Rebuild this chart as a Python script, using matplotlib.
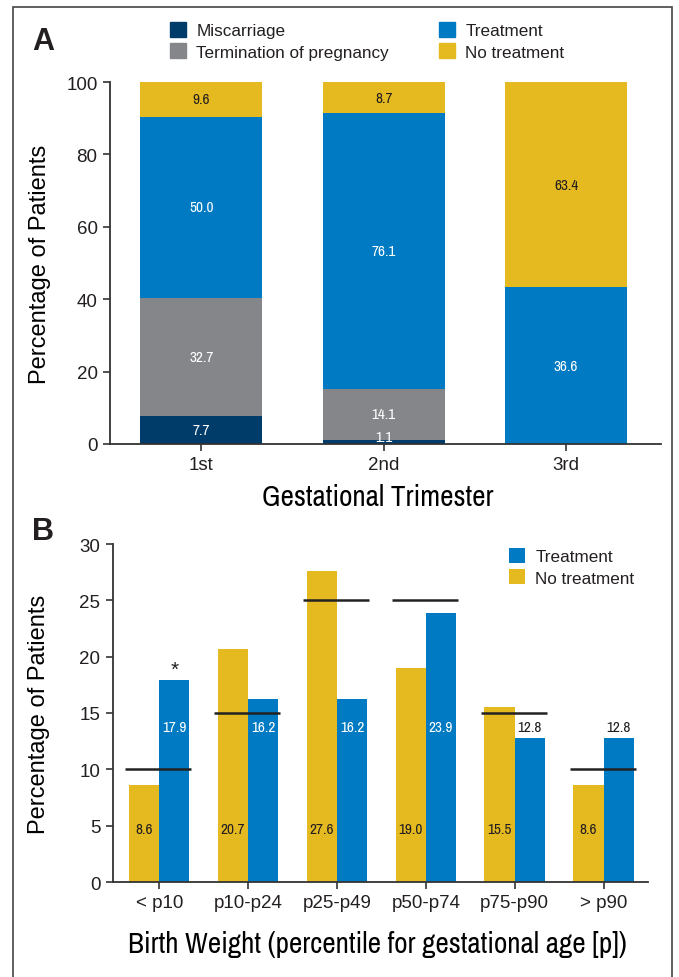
import numpy as np
import matplotlib
matplotlib.use('Agg')
import matplotlib.pyplot as plt
from matplotlib import font_manager
from matplotlib.patches import Patch, Rectangle

# Panel A data (percent of patients per trimester)
trimesters = ['1st', '2nd', '3rd']
a_series = ['Miscarriage', 'Termination of pregnancy', 'Treatment', 'No treatment']
miscarriage = [7.7, 1.1, 0.0]
termination = [32.7, 14.1, 0.0]
treatment_a = [50.0, 76.1, 43.3]
no_treatment_a = [9.6, 8.7, 56.7]
# printed labels (3rd trimester bar is drawn taller than its label in the source)
labels_a = [['7.7', '1.1', ''], ['32.7', '14.1', ''],
            ['50.0', '76.1', '36.6'], ['9.6', '8.7', '63.4']]

# Panel B data
weight_groups = ['< p10', 'p10-p24', 'p25-p49', 'p50-p74', 'p75-p90', '> p90']
no_treatment_b = [8.6, 20.7, 27.6, 19.0, 15.5, 8.6]
treatment_b = [17.9, 16.2, 16.2, 23.9, 12.8, 12.8]
expected_b = [10, 15, 25, 25, 15, 10]

c_navy = '#003c69'
c_gray = '#848689'
c_blue = '#007ac2'
c_yellow = '#e5b920'
c_text = '#231f20'

names = {f.name for f in font_manager.fontManager.ttflist}
if 'Archivo Narrow' in names:
    narrow = {'family': 'Archivo Narrow'}
else:
    narrow = {'family': 'DejaVu Sans', 'stretch': 'condensed'}
regular = 'Liberation Sans'
plt.rcParams['font.family'] = [regular, 'DejaVu Sans']
plt.rcParams['text.color'] = c_text
plt.rcParams['axes.edgecolor'] = '#333333'
plt.rcParams['xtick.color'] = '#333333'
plt.rcParams['ytick.color'] = '#333333'

fig = plt.figure(figsize=(6.79, 9.78), dpi=100)
fig.patches.append(Rectangle((12.5/679, -0.02), (672-12.5)/679, 1.02 - 7.5/978,
                             transform=fig.transFigure, fill=False,
                             edgecolor='#444444', lw=1.2))

def style_axes(ax):
    for s in ['top', 'right']:
        ax.spines[s].set_visible(False)
    for s in ['left', 'bottom']:
        ax.spines[s].set_linewidth(1.3)
    ax.tick_params(direction='out', length=5, width=1.2, labelsize=13.5,
                   labelcolor=c_text, pad=4)

# ---- Panel A
axA = fig.add_axes([110/679, 1-445/978, (661-110)/679, (445-83)/978])
x = np.arange(len(trimesters))
stack = [miscarriage, termination, treatment_a, no_treatment_a]
cols = [c_navy, c_gray, c_blue, c_yellow]
txtcols = ['white', 'white', 'white', c_text]
bottom = np.zeros(len(trimesters))
handles = []
for vals, col, lab, tl, tc in zip(stack, cols, a_series, labels_a, txtcols):
    vals = np.array(vals)
    axA.bar(x, vals, 0.667, bottom=bottom, color=col, linewidth=0)
    for i in range(len(x)):
        if tl[i]:
            yy = bottom[i] + max(vals[i], 3.8) / 2
            axA.text(x[i], yy, tl[i], ha='center', va='center', color=tc,
                     fontsize=11, **narrow)
    bottom = bottom + vals
    handles.append(Patch(color=col, label=lab))
axA.set_xlim(-0.5, 2.52)
axA.set_ylim(0, 100)
axA.set_yticks(range(0, 101, 20))
axA.set_xticks(x)
axA.set_xticklabels(trimesters)
style_axes(axA)
axA.set_ylabel('Percentage of Patients', fontsize=17)
axA.yaxis.set_label_coords(-0.107, 0.5)
axA.set_xlabel('Gestational Trimester', fontsize=21, **narrow)
axA.xaxis.set_label_coords(0.486, -0.108)

leg_kw = dict(loc='upper left', frameon=False, borderpad=0, borderaxespad=0,
              handlelength=0.95, handleheight=0.95, handletextpad=0.6,
              labelspacing=0.3, prop=dict(size=12.3, family=regular))
fig.legend(handles=handles[:2], bbox_to_anchor=(170/679, 1-23/978), **leg_kw)
fig.legend(handles=handles[2:], bbox_to_anchor=(439/679, 1-23/978), **leg_kw)
fig.text(32/679, 1-50/978, 'A', fontsize=22, fontweight='bold', ha='left', va='baseline')

# ---- Panel B
axB = fig.add_axes([113/679, 1-883/978, (648-113)/679, (883-545)/978])
xb = np.arange(len(weight_groups))
w = 0.34
axB.bar(xb - w/2, no_treatment_b, w, color=c_yellow, linewidth=0, label='No treatment')
axB.bar(xb + w/2, treatment_b, w, color=c_blue, linewidth=0, label='Treatment')
for i in range(len(xb)):
    axB.text(xb[i] - w/2, 4.7, '%.1f' % no_treatment_b[i], ha='center', va='center',
             color=c_text, fontsize=11, **narrow)
    tc = 'white' if treatment_b[i] > 15 else c_text
    axB.text(xb[i] + w/2, 13.75, '%.1f' % treatment_b[i], ha='center', va='center',
             color=tc, fontsize=11, **narrow)
    axB.hlines(expected_b[i], xb[i] - 0.38, xb[i] + 0.36, color='#222222', lw=1.8)
axB.text(xb[0] + w/2, treatment_b[0] + 0.1, '*', ha='center', va='bottom',
         fontsize=15, color=c_text)
axB.set_xlim(-0.52, 5.5)
axB.set_ylim(0, 30)
axB.set_yticks(range(0, 31, 5))
axB.set_xticks(xb)
axB.set_xticklabels(weight_groups)
style_axes(axB)
axB.set_ylabel('Percentage of Patients', fontsize=17)
axB.yaxis.set_label_coords(-0.118, 0.5)
axB.set_xlabel('Birth Weight (percentile for gestational age [p])', fontsize=21, **narrow)
axB.xaxis.set_label_coords(0.495, -0.143)
hb, lb = axB.get_legend_handles_labels()
fig.legend(handles=[hb[1], hb[0]], labels=[lb[1], lb[0]],
           bbox_to_anchor=(509/679, 1-549/978), **leg_kw)
fig.text(32/679, 1-540/978, 'B', fontsize=22, fontweight='bold', ha='left', va='baseline')

fig.savefig('out.png', dpi=100)
